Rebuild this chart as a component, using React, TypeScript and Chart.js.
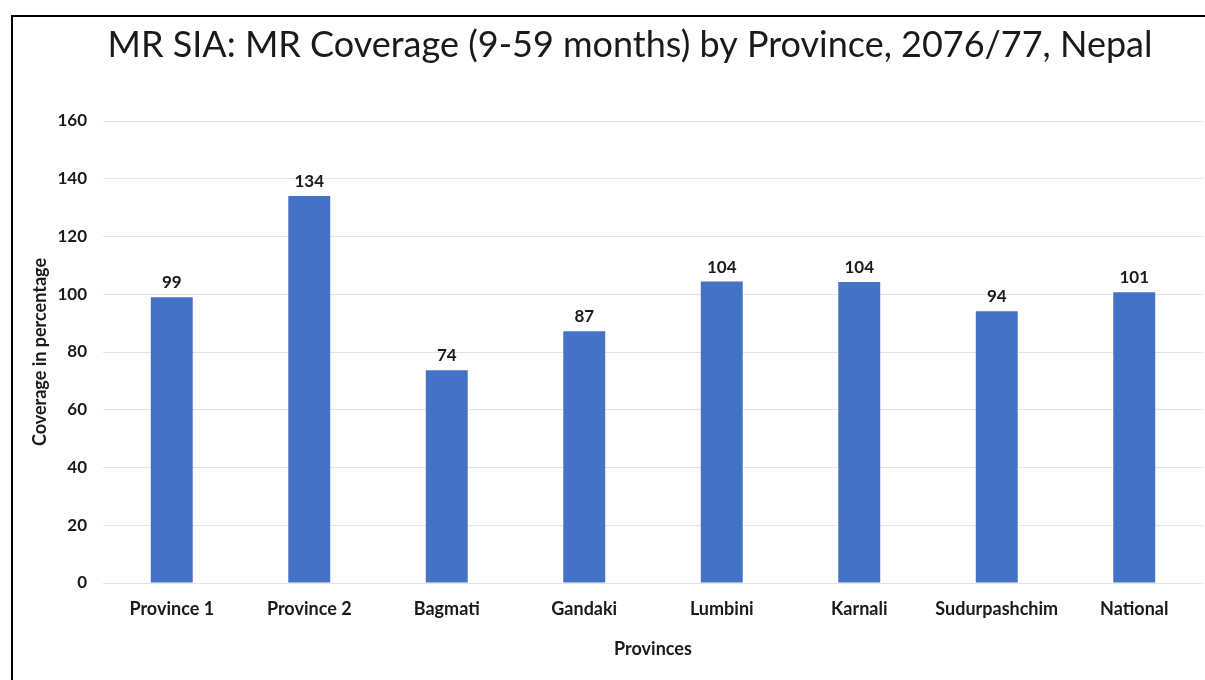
import React, { useEffect, useRef } from "react";
import { Chart, registerables } from "chart.js";

Chart.register(...registerables);

const titleText = "MR SIA: MR Coverage (9-59 months) by Province, 2076/77, Nepal";
const categories = ["Province 1", "Province 2", "Bagmati", "Gandaki", "Lumbini", "Karnali", "Sudurpashchim", "National"];
const coverage = [99, 134, 73.7, 87.2, 104.4, 104.2, 94.1, 100.7];
const yTicks = [0, 20, 40, 60, 80, 100, 120, 140, 160];
const yTitle = "Coverage in percentage";
const xTitle = "Provinces";

const FONT = "Lato, 'Open Sans', sans-serif";
const TEXT = "#1a1a1a";

const titlePlugin = {
  id: "customTitle",
  afterDraw(chart: any) {
    const ctx = chart.ctx;
    ctx.save();
    ctx.font = `400 36px ${FONT}`;
    ctx.fillStyle = TEXT;
    ctx.textAlign = "center";
    ctx.textBaseline = "middle";
    ctx.fillText(titleText, 617, 28);
    ctx.restore();
  },
};

const labelsPlugin = {
  id: "barLabels",
  afterDatasetsDraw(chart: any) {
    const ctx = chart.ctx;
    const meta = chart.getDatasetMeta(0);
    const data = chart.data.datasets[0].data;
    ctx.save();
    ctx.font = `700 17px ${FONT}`;
    ctx.fillStyle = TEXT;
    ctx.textAlign = "center";
    ctx.textBaseline = "bottom";
    meta.data.forEach((bar: any, i: number) => {
      ctx.fillText(String(Math.round(data[i])), bar.x, bar.y - 6);
    });
    ctx.restore();
  },
};

export default function App() {
  const ref = useRef<HTMLCanvasElement | null>(null);
  useEffect(() => {
    if (!ref.current) return;
    const chart = new Chart(ref.current, {
      type: "bar",
      data: {
        labels: categories,
        datasets: [
          {
            data: coverage,
            backgroundColor: "#4472C4",
            barPercentage: 0.61,
            categoryPercentage: 0.5,
          },
        ],
      },
      options: {
        animation: false,
        responsive: true,
        maintainAspectRatio: false,
        layout: { padding: { left: 12, right: 2, top: 104, bottom: 16 } },
        plugins: {
          legend: { display: false },
          title: { display: false },
          tooltip: { enabled: false },
        },
        scales: {
          x: {
            grid: { display: false, drawTicks: false },
            border: { display: false },
            ticks: {
              padding: 15,
              color: TEXT,
              font: { family: FONT, size: 18, weight: "bold" },
              maxRotation: 0,
              autoSkip: false,
            },
            title: {
              display: true,
              text: xTitle,
              color: TEXT,
              font: { family: FONT, size: 18, weight: "bold" },
            },
            afterFit(scale: any) {
              scale.height = 81;
            },
          },
          y: {
            min: 0,
            max: 160,
            afterBuildTicks(scale: any) {
              scale.ticks = yTicks.map((v) => ({ value: v }));
            },
            grid: { color: "#e3e3e3", drawTicks: false, lineWidth: 1 },
            border: { display: false },
            ticks: {
              padding: 16,
              color: TEXT,
              font: { family: FONT, size: 17, weight: "bold" },
            },
            title: {
              display: true,
              text: yTitle,
              color: TEXT,
              font: { family: FONT, size: 18, weight: "bold" },
            },
            afterFit(scale: any) {
              scale.width = 78;
            },
          },
        },
      },
      plugins: [titlePlugin, labelsPlugin],
    });
    return () => chart.destroy();
  }, []);

  return (
    <div
      style={{
        position: "fixed",
        left: 11,
        top: 15,
        width: 1192,
        height: 663,
        borderTop: "2px solid #000",
        borderLeft: "2px solid #000",
        background: "#fff",
      }}
    >
      <canvas ref={ref} />
    </div>
  );
}
